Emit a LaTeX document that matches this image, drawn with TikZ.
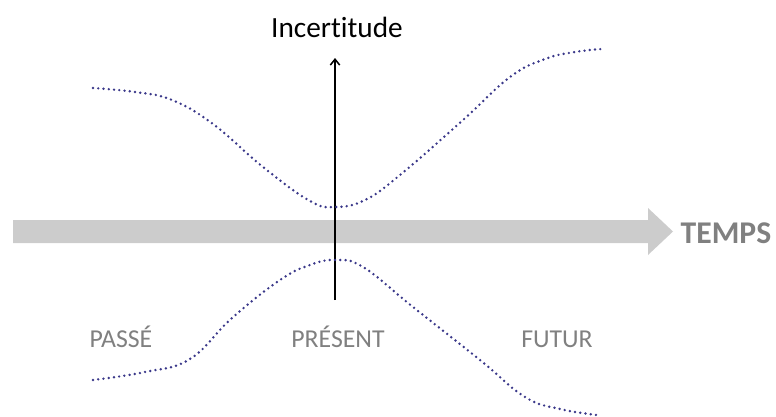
\documentclass[tikz,border=0pt]{standalone}
\usepackage{fontspec}
\setmainfont{Carlito}[Ligatures=NoCommon]
\usetikzlibrary{arrows.meta, positioning}
\definecolor{bandegris}{HTML}{CCCCCC}
\definecolor{textegris}{HTML}{808080}
\definecolor{pointille}{HTML}{3A388A}

\begin{document}
\begin{tikzpicture}[x=0.03cm, y=-0.03cm,
  etiquette/.style={text=textegris, font=\fontsize{22}{26}\selectfont, inner sep=0pt, anchor=base},
  incert/.style={draw=pointille, line width=2.3pt, line cap=round, dash pattern=on 0pt off 4.5pt}]
  \useasboundingbox (0,0) rectangle (776,417);

  % Time band
  \fill[bandegris] (13,220) -- (648,220) -- (648,208) -- (673,231.5) -- (648,255) -- (648,243) -- (13,243) -- cycle;
  \node[text=textegris, font=\bfseries\fontsize{27}{32}\selectfont, inner sep=0pt, anchor=base] (temps) at (726,243) {TEMPS};

  % Labels
  \node[etiquette] (passe) at (121,347) {PASSÉ};
  \node[etiquette] (present) at (338,347) {PRÉSENT};
  \node[etiquette] (futur) at (557,347) {FUTUR};

  % Uncertainty axis
  \node[font=\fontsize{25}{30}\selectfont, inner sep=0pt, anchor=base] (incertitude) at (337,37) {Incertitude};
  \coordinate (axebas) at (335,300);
  \coordinate (axehaut) at (335,58);
  \draw[line width=1.3pt, -{Straight Barb[length=5pt, width=8pt]}] (axebas) -- (axehaut);

  % Uncertainty cone
  \draw[incert] plot[smooth, tension=0.7] coordinates {(93,88) (135,92) (172,100) (213,124) (263,167) (310,201) (335,207) (365,200) (400,175) (463,120) (510,77) (545,59) (575,52) (602,49)};
  \draw[incert] plot[smooth, tension=0.7] coordinates {(93,380) (145,372) (190,359) (232,318) (280,280) (310,265) (335,260) (363,267) (413,307) (480,360) (525,397) (560,409) (597,415)};
\end{tikzpicture}
\end{document}
